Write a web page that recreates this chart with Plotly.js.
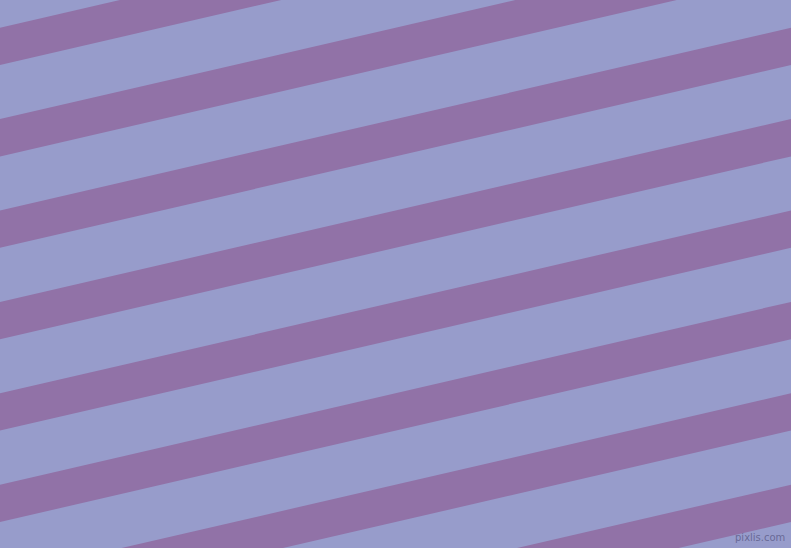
<!DOCTYPE html>
<html>
<head>
<meta charset="utf-8">
<script src="https://cdn.plot.ly/plotly-3.0.1.min.js"></script>
<style>
	html, body { margin: 0; padding: 0; background: #979ccb; }
	#chart { width: 791px; height: 548px; }
</style>
</head>
<body>
<div id="chart"></div>
<script>
// stripe edges where they meet the left border (px from top)
const stripeTop = [-63.7, 27.7, 119.1, 210.5, 301.9, 393.3, 484.7, 576.1, 667.5, 758.9];
const stripeBottom = [-26.4, 65, 156.4, 247.8, 339.2, 430.6, 522, 613.4, 704.8, 796.2];
// how far each stripe rises between left and right border
const stripeRise = 182.8;
const plotWidth = 791;
const plotHeight = 548;

const lightColor = "#979ccb";
const stripeColor = "#9172a7";

let traces = [];
for (let i = 0; i < stripeTop.length; i++) {
	traces.push({
		type: "scatter",
		mode: "lines",
		x: [0, plotWidth, plotWidth, 0, 0],
		y: [stripeTop[i], stripeTop[i] - stripeRise, stripeBottom[i] - stripeRise, stripeBottom[i], stripeTop[i]],
		fill: "toself",
		fillcolor: stripeColor,
		line: { width: 0, color: stripeColor },
		hoverinfo: "skip",
		showlegend: false
	});
}

const layout = {
	width: plotWidth,
	height: plotHeight,
	margin: { l: 0, r: 0, t: 0, b: 0, pad: 0 },
	paper_bgcolor: lightColor,
	plot_bgcolor: lightColor,
	xaxis: { range: [0, plotWidth], visible: false, fixedrange: true },
	yaxis: { range: [plotHeight, 0], visible: false, fixedrange: true },
	annotations: [{
		text: "pixlis.com",
		xref: "paper", yref: "paper",
		x: 0.995, y: 0.006,
		xanchor: "right", yanchor: "bottom",
		showarrow: false,
		font: { family: "DejaVu Sans", size: 10, color: "rgba(95,95,140,0.85)" }
	}]
};

Plotly.newPlot("chart", traces, layout, { staticPlot: true, displayModeBar: false });
</script>
</body>
</html>
